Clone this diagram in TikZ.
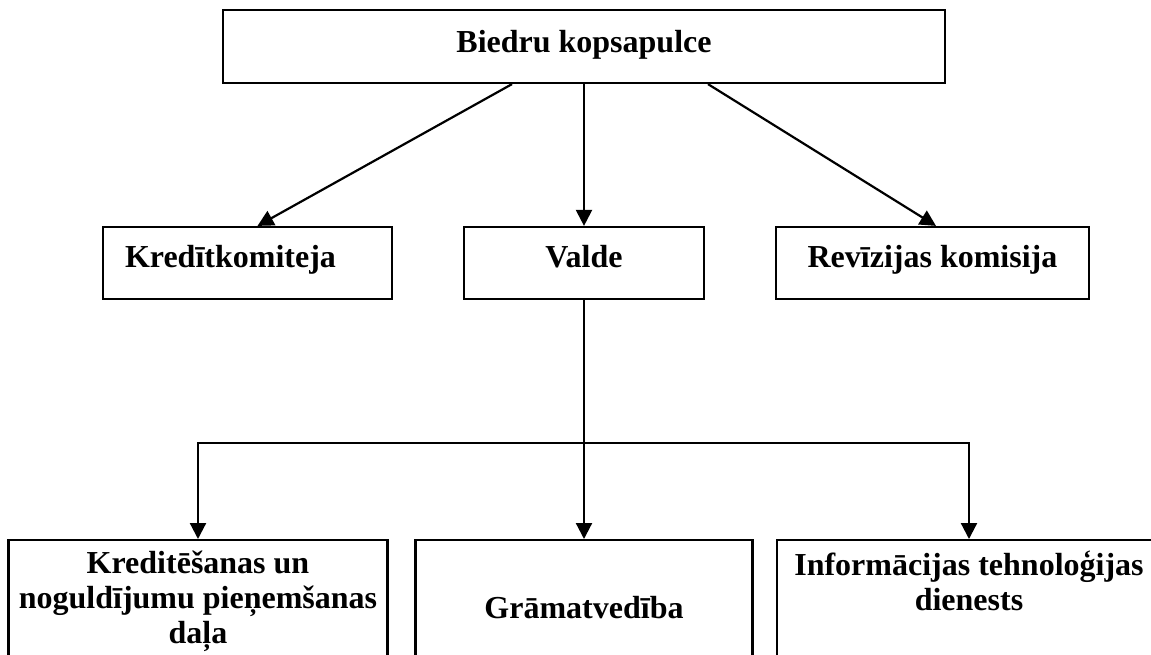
\documentclass[tikz,border=0pt]{standalone}
\usepackage{fontspec}
\setmainfont{Liberation Serif}
\usetikzlibrary{arrows.meta}

\begin{document}
\begin{tikzpicture}[x=0.5pt, y=-0.5pt, >={Triangle[length=8pt, width=8pt]},
	every node/.style={rectangle, draw=black, line width=1.1pt, inner sep=0pt, minimum height=36pt, text height=10pt, text depth=5pt, font=\fontsize{16pt}{17.5pt}\selectfont\bfseries},
	link/.style={draw=black, line width=1.1pt}]
			\useasboundingbox (0,0) rectangle (1151,654);
			\node[minimum width=361pt, minimum height=36.5pt, text height=10.5pt] (boss) at (584,46.5){Biedru kopsapulce};
			\node[minimum width=144.5pt, text width=122.5pt, align=left, text depth=6pt] (kred) at (247.5,263){Kredītkomiteja};
			\node[minimum width=120pt, text depth=6pt] (valde) at (584,263){Valde};
			\node[minimum width=156.5pt, text depth=6pt] (reviz) at (932.5,263){Revīzijas komisija};
			
			\node[anchor=north, text height=, text depth=] (dala) at (198,539){\parbox[c][67pt][t]{189.5pt}{\centering\vspace*{5.5pt}Kreditēšanas un\\ noguldījumu pieņemšanas\\ daļa}};
			\node[anchor=north, text height=, text depth=] (gram) at (584,539){\parbox[c][67pt][c]{168.5pt}{\centering Grāmatvedība}};
			\node[anchor=north, text height=, text depth=] (it) at (969,539){\parbox[c][67pt][t]{192pt}{\centering\vspace*{5.5pt}Informācijas tehnoloģijas\\ dienests}};
			
			\coordinate (split) at (584,443);
			
			\draw[link, ->] ([xshift=-36pt]boss.south) -- ([xshift=5pt]kred.north);
			\draw[link, ->] (boss) -- (valde);
			\draw[link, ->] ([xshift=62pt]boss.south) -- ([xshift=1.75pt]reviz.north);
			\draw[link] (valde) -- (split);
			\draw[link, ->] (split) -| (dala.north);
			\draw[link, ->] (split) -- (gram.north);
			\draw[link, ->] (split) -| (it.north);
			\end{tikzpicture}
\end{document}
